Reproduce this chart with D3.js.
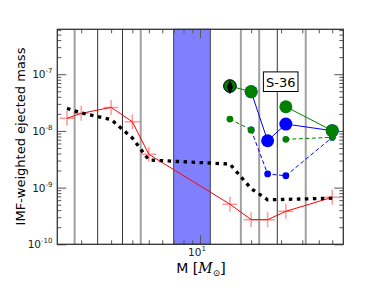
<!DOCTYPE html>
<html>
<head>
<meta charset="utf-8">
<script src="https://cdn.jsdelivr.net/npm/d3@7"></script>
<style>
  html, body { margin: 0; padding: 0; background: #fff; }
  svg { display: block; font-family: 'DejaVu Sans', sans-serif; }
</style>
</head>
<body>
<div class="svg-container"></div>
<script>
// masses of the low/intermediate and massive grids
const lowMasses = [1.65, 2, 3, 4, 5]
const highMasses = [15, 20, 25, 32, 60]
const allMasses = lowMasses.concat(highMasses)

// red crosses (IMF-weighted ejecta)
const redValues = [1.67e-8, 2.04e-8, 2.6e-8, 1.45e-8, 3.86e-9, 5.1e-10, 2.72e-10, 2.72e-10, 3.82e-10, 6.75e-10]
// black dotted curve
const blackValues = [2.5e-8, 2.07e-8, 1.59e-8, 7.5e-9, 3.07e-9, 2.6e-9, 9.6e-10, 6.1e-10, 6.2e-10, 6.5e-10]

// S-36 models, big markers (solid) and small markers (dashed); null = no model
const greenBig = [6.19e-8, 4.91e-8, null, 2.67e-8, 1.01e-8]
const blueBig = [null, 4.91e-8, 6.71e-9, 1.32e-8, 1.01e-8]
const greenSmall = [1.62e-8, 1.04e-8, null, 7.11e-9, 7.7e-9]
const blueSmall = [null, 1.04e-8, 1.74e-9, 1.62e-9, 7.7e-9]

const grayLines = [1.83, 4.48, 17.4, 22.3, 41.9]
const blackLines = [2.5, 3.5, 28.5]
const spanRange = [7, 11.5]

const yMajor = [1e-10, 1e-9, 1e-8, 1e-7]
const yMajorExp = ['-10', '-9', '-8', '-7']
const xMajor = [10]
const xMajorExp = ['1']

const svgWidth = 382
const svgHeight = 288
const plotLeft = 57.3, plotRight = 343.3, plotTop = 29.3, plotBottom = 244.3

const svg = d3.select('.svg-container')
  .append('svg')
  .attr('width', svgWidth)
  .attr('height', svgHeight)

const x = d3.scaleLog([1.447, 69.7], [plotLeft, plotRight])
const y = d3.scaleLog([1e-10, 6.2e-7], [plotBottom, plotTop])

// shaded mass range
svg.append('rect')
  .attr('x', x(spanRange[0]))
  .attr('y', plotTop)
  .attr('width', x(spanRange[1]) - x(spanRange[0]))
  .attr('height', plotBottom - plotTop)
  .attr('fill', '#8080ff')
  .attr('stroke', '#404060')
  .attr('stroke-width', 1)

svg.append('g')
  .selectAll('line')
  .data(grayLines)
  .join('line')
  .attr('x1', d => x(d)).attr('x2', d => x(d))
  .attr('y1', plotTop).attr('y2', plotBottom)
  .attr('stroke', '#a0a0a0')
  .attr('stroke-width', 2)

svg.append('g')
  .selectAll('line')
  .data(blackLines)
  .join('line')
  .attr('x1', d => x(d)).attr('x2', d => x(d))
  .attr('y1', plotTop).attr('y2', plotBottom)
  .attr('stroke', '#333')
  .attr('stroke-width', 1)

// ticks, all pointing inward, on all four sides
const yMinor = y.ticks().filter(v => !yMajor.some(m => Math.abs(v / m - 1) < 1e-6))
const xMinor = x.ticks().filter(v => !xMajor.some(m => Math.abs(v / m - 1) < 1e-6))

const tickColor = '#555'
function yTicks(vals, len) {
  svg.append('g').attr('transform', `translate(${plotLeft},0)`)
    .call(d3.axisLeft(y).tickValues(vals).tickSize(-len).tickFormat(''))
    .call(g => g.select('.domain').remove())
    .call(g => g.selectAll('line').attr('stroke', tickColor))
  svg.append('g').attr('transform', `translate(${plotRight},0)`)
    .call(d3.axisRight(y).tickValues(vals).tickSize(-len).tickFormat(''))
    .call(g => g.select('.domain').remove())
    .call(g => g.selectAll('line').attr('stroke', tickColor))
}
function xTicks(vals, len) {
  svg.append('g').attr('transform', `translate(0,${plotBottom})`)
    .call(d3.axisBottom(x).tickValues(vals).tickSize(-len).tickFormat(''))
    .call(g => g.select('.domain').remove())
    .call(g => g.selectAll('line').attr('stroke', tickColor))
  svg.append('g').attr('transform', `translate(0,${plotTop})`)
    .call(d3.axisTop(x).tickValues(vals).tickSize(-len).tickFormat(''))
    .call(g => g.select('.domain').remove())
    .call(g => g.selectAll('line').attr('stroke', tickColor))
}
yTicks(yMajor, 9)
yTicks(yMinor, 4)
xTicks(xMajor, 9)
xTicks(xMinor, 4)

// red line with light crosses
const line = d3.line()
  .defined(d => d[1] != null)
  .x(d => x(d[0]))
  .y(d => y(d[1]))

const redData = allMasses.map((m, i) => [m, redValues[i]])
svg.append('path')
  .datum(redData)
  .attr('d', line)
  .attr('fill', 'none')
  .attr('stroke', '#ff0000')
  .attr('stroke-width', 1)

svg.append('g')
  .selectAll('path')
  .data(redData)
  .join('path')
  .attr('d', d => {
    const cx = x(d[0]), cy = y(d[1]), s = 7.5
    return `M${cx - s},${cy}H${cx + s}M${cx},${cy - s}V${cy + s}`
  })
  .attr('stroke', 'rgba(255,0,0,0.4)')
  .attr('stroke-width', 1.5)

// black dotted curve
svg.append('path')
  .datum(allMasses.map((m, i) => [m, blackValues[i]]))
  .attr('d', line)
  .attr('fill', 'none')
  .attr('stroke', '#000')
  .attr('stroke-width', 3.3)
  .attr('stroke-dasharray', '3.5,4.5')

// S-36 series
function series(values, color, dash, r) {
  const data = highMasses.map((m, i) => [m, values[i]])
  svg.append('path')
    .datum(data)
    .attr('d', line)
    .attr('fill', 'none')
    .attr('stroke', color)
    .attr('stroke-width', 1)
    .attr('stroke-dasharray', dash)
  svg.append('g')
    .selectAll('circle')
    .data(data.filter(d => d[1] != null))
    .join('circle')
    .attr('cx', d => x(d[0]))
    .attr('cy', d => y(d[1]))
    .attr('r', r)
    .attr('fill', color)
}
series(blueSmall, '#0000ff', '4,2.5', 3.4)
series(greenSmall, '#008000', '4,2.5', 3.4)
series(blueBig, '#0000ff', null, 6.5)
series(greenBig, '#008000', null, 6.5)

// first S-36 model marked with a black diamond
svg.append('circle')
  .attr('cx', x(highMasses[0]))
  .attr('cy', y(greenBig[0]))
  .attr('r', 6.3)
  .attr('fill', 'none')
  .attr('stroke', '#000')
  .attr('stroke-width', 1)
svg.append('path')
  .attr('d', d3.symbol(d3.symbolDiamond, 60)())
  .attr('transform', `translate(${x(highMasses[0])},${y(greenBig[0]) + 1}) scale(0.75,1)`)
  .attr('fill', '#000')

// label box
const label = svg.append('g').attr('transform', 'translate(280.7,81.7)')
label.append('rect')
  .attr('x', -17.3).attr('y', -9.8)
  .attr('width', 34.6).attr('height', 19.6)
  .attr('fill', '#fff')
  .attr('stroke', '#000')
  .attr('stroke-width', 1)
label.append('text')
  .attr('y', 5)
  .attr('text-anchor', 'middle')
  .style('font-size', '13px')
  .text('S-36')

// frame
svg.append('rect')
  .attr('x', plotLeft).attr('y', plotTop)
  .attr('width', plotRight - plotLeft).attr('height', plotBottom - plotTop)
  .attr('fill', 'none')
  .attr('stroke', '#333')
  .attr('stroke-width', 1.3)

// tick labels
yMajor.forEach((v, i) => {
  const t = svg.append('text')
    .attr('x', 52.5)
    .attr('y', y(v) + 4)
    .attr('text-anchor', 'end')
    .style('font-size', '10.5px')
    .attr('fill', '#222')
  t.append('tspan').text('10')
  t.append('tspan').attr('dy', -5).style('font-size', '7px').text(yMajorExp[i])
})
xMajor.forEach((v, i) => {
  const t = svg.append('text')
    .attr('x', x(v) - 3)
    .attr('y', 256)
    .attr('text-anchor', 'middle')
    .style('font-size', '10.5px')
    .attr('fill', '#222')
  t.append('tspan').text('10')
  t.append('tspan').attr('dy', -5).style('font-size', '7px').text(xMajorExp[i])
})

// axis titles
const xt = svg.append('text')
  .attr('x', 176.3)
  .attr('y', 272.5)
  .style('font-size', '14px')
xt.append('tspan').text('M ')
xt.append('tspan').style('font-family', 'DejaVu Serif').text('[')
xt.append('tspan').style('font-family', 'DejaVu Serif').style('font-style', 'italic').text('M')
xt.append('tspan').attr('dy', 3).style('font-family', 'DejaVu Serif').style('font-size', '9px').text('\u2299')
xt.append('tspan').attr('dy', -3).style('font-family', 'DejaVu Serif').text(']')

svg.append('text')
  .attr('transform', 'translate(25,136.5) rotate(-90)')
  .attr('text-anchor', 'middle')
  .style('font-size', '13px')
  .text('IMF-weighted ejected mass')
</script>
</body>
</html>
